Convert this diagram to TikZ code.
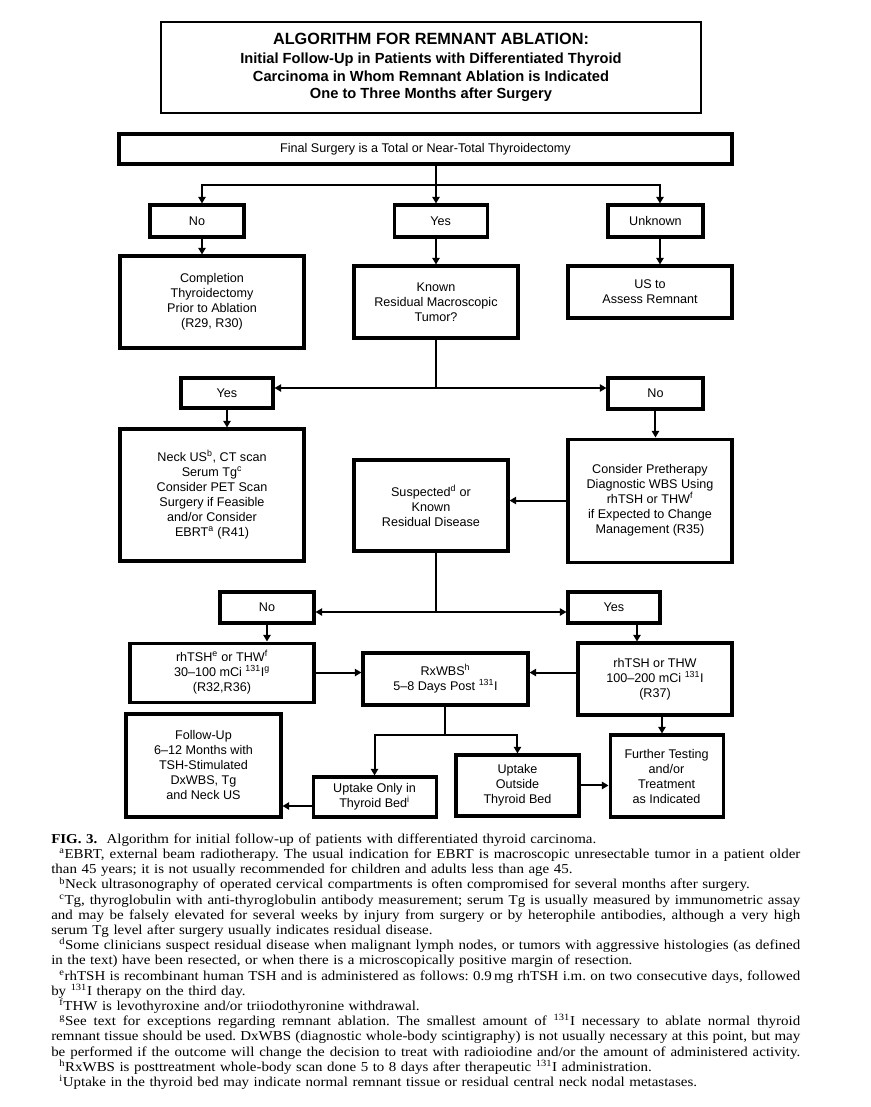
\documentclass[tikz,border=0pt]{standalone}
\usepackage{fontspec}
\setmainfont{Liberation Sans}
\newfontfamily\capserif[FakeStretch=1.1]{Liberation Serif}
\usepackage{tikz}
\usetikzlibrary{positioning, arrows.meta}

\newlength\capw
\setlength\capw{561.75pt}
\newcommand\jline[1]{\makebox[\capw][s]{\spaceskip=0pt\xspaceskip=0pt #1}}
\newcommand\capfont{\capserif\fontsize{10.2}{11.4}\selectfont\frenchspacing}
\newcommand\boxfont{\fontsize{9.45}{11.25}\selectfont}

\tikzset{
  flowbox/.style={draw, line width=2.3pt, align=center, inner sep=0pt, font=\boxfont},
  link/.style={line width=1.5pt},
  linkarr/.style={link, -{Triangle[length=5pt,width=5.5pt]}},
}

\begin{document}
\begin{tikzpicture}[x=1pt,y=-1pt]
            \useasboundingbox (0,0) rectangle (653.25,830.25);
            \node[draw, line width=1pt, minimum width=405pt, minimum height=68.25pt, align=center, inner sep=0pt,
                  font=\fontsize{11}{13.1}\selectfont\bfseries] (title) at (323.25,50.6)
                {{\fontsize{12.2}{13.1}\selectfont ALGORITHM FOR REMNANT ABLATION:}\\[1.2pt]
                 Initial Follow-Up in Patients with Differentiated Thyroid\\
                 Carcinoma in Whom Remnant Ablation is Indicated\\
                 One to Three Months after Surgery};
            \node[flowbox, line width=2.6pt, minimum width=459.75pt, minimum height=22.5pt] (final) at (319.1,111.75)
                {Final Surgery is a Total or Near-Total Thyroidectomy};
            \node[flowbox, minimum width=70.5pt, minimum height=24pt] (no1) at (147.75,165.75) {No};
            \node[flowbox, minimum width=69.75pt, minimum height=24pt] (yes1) at (330.4,165.75) {Yes};
            \node[flowbox, minimum width=71.25pt, minimum height=24pt] (unk) at (491.6,165.75) {Unknown};
            \node[flowbox, minimum width=138pt, minimum height=69pt] (compl) at (159,226.5)
                {Completion\\Thyroidectomy\\Prior to Ablation\\(R29, R30)};
            \node[flowbox, minimum width=123pt, minimum height=54pt] (known) at (327,226.5)
                {Known\\Residual Macroscopic\\Tumor?};
            \node[flowbox, minimum width=123pt, minimum height=39pt] (us) at (487.5,219)
                {US to\\Assess Remnant};
            \node[flowbox, minimum width=69pt, minimum height=22.5pt] (yes2) at (170.25,294.75) {Yes};
            \node[flowbox, minimum width=71.25pt, minimum height=23.25pt] (no2) at (491.6,295.1) {No};
            \node[flowbox, minimum width=138pt, minimum height=99pt] (neck) at (159,371.25)
                {Neck US\textsuperscript{b}, CT scan\\Serum Tg\textsuperscript{c}\\Consider PET Scan\\Surgery if Feasible\\and/or Consider\\EBRT\textsuperscript{a} (R41)};
            \node[flowbox, minimum width=123pt, minimum height=92.25pt] (consider) at (487.5,375.4)
                {Consider Pretherapy\\Diagnostic WBS Using\\rhTSH or THW\textsuperscript{f}\\if Expected to Change\\Management (R35)};
            \node[flowbox, minimum width=115.5pt, minimum height=68.25pt] (suspected) at (323.25,379.1)
                {Suspected\textsuperscript{d} or\\Known\\Residual Disease};
            \node[flowbox, minimum width=70.5pt, minimum height=23.25pt] (no3) at (200.25,455.6) {No};
            \node[flowbox, minimum width=69pt, minimum height=23.25pt] (yes3) at (460.5,455.6) {Yes};
            \node[flowbox, minimum width=138pt, minimum height=44.25pt] (rhl) at (166.5,504.4)
                {rhTSH\textsuperscript{e} or THW\textsuperscript{f}\\30–100 mCi \textsuperscript{131}I\textsuperscript{g}\\(R32,R36)};
            \node[flowbox, minimum width=123.75pt, minimum height=39pt] (rx) at (334.1,509.25)
                {RxWBS\textsuperscript{h}\\5–8 Days Post \textsuperscript{131}I};
            \node[flowbox, minimum width=115.5pt, minimum height=54pt] (rhr) at (491.25,509.25)
                {rhTSH or THW\\100–200 mCi \textsuperscript{131}I\\(R37)};
            \node[flowbox, minimum width=116.25pt, minimum height=77.25pt] (follow) at (152.6,574.1)
                {Follow-Up\\6–12 Months with\\TSH-Stimulated\\DxWBS, Tg\\and Neck US};
            \node[flowbox, minimum width=92.25pt, minimum height=30pt] (uonly) at (280.9,597.75)
                {Uptake Only in\\Thyroid Bed\textsuperscript{i}};
            \node[flowbox, minimum width=92.25pt, minimum height=45.75pt] (uout) at (388.1,589.1)
                {Uptake\\Outside\\Thyroid Bed};
            \node[flowbox, minimum width=84.75pt, minimum height=61.5pt] (further) at (499.9,582)
                {Further Testing\\and/or\\Treatment\\as Indicated};

            \coordinate (s1) at (327,138.75);
            \coordinate (s2) at (327,291);
            \coordinate (s3) at (327,459);
            \coordinate (s4) at (334.1,551.25);
            \coordinate (t1) at (477.75,0);
            \coordinate (t2) at (0,604.5);
            \coordinate (t3) at (496.5,0);
            \coordinate (t4) at (151.5,0);
            \coordinate (t5) at (495,0);

            \draw[link] (s1 |- final.south) -- (s1);
            \draw[linkarr] (s1) -| (t4 |- no1.north);
            \draw[linkarr] (s1) -- (s1 |- yes1.north);
            \draw[linkarr] (s1) -| (t5 |- unk.north);
            \draw[linkarr] (t4 |- no1.south) -- (t4 |- compl.north);
            \draw[linkarr] (s1 |- yes1.south) -- (s1 |- known.north);
            \draw[linkarr] (t5 |- unk.south) -- (t5 |- us.north);
            \draw[link] (known.south) -- (s2);
            \draw[linkarr] (s2) -- (s2 -| yes2.east);
            \draw[linkarr] (s2) -- (s2 -| no2.west);
            \draw[linkarr] (yes2.south) -- (yes2.south |- neck.north);
            \draw[linkarr] (no2.south) -- (no2.south |- consider.north);
            \draw[linkarr] (consider.west) -- (consider.west -| suspected.east);
            \draw[link] (s3 |- suspected.south) -- (s3);
            \draw[linkarr] (s3) -- (s3 -| no3.east);
            \draw[linkarr] (s3) -- (s3 -| yes3.west);
            \draw[linkarr] (no3.south) -- (no3.south |- rhl.north);
            \draw[linkarr] (t1 |- yes3.south) -- (t1 |- rhr.north);
            \draw[linkarr] (rhl.east) -- (rhl.east -| rx.west);
            \draw[linkarr] (rhr.west |- rhl.east) -- (rx.east |- rhl.east);
            \draw[link] (rx.south) -- (s4);
            \draw[linkarr] (s4) -| (uonly.north);
            \draw[linkarr] (s4) -| (uout.north);
            \draw[linkarr] (uonly.west |- t2) -- (follow.east |- t2);
            \draw[linkarr] (uout.east) -- (uout.east -| further.west);
            \draw[linkarr] (t3 |- rhr.south) -- (t3 |- further.north);

            \node[anchor=north west, inner sep=0pt, text width=\capw, align=left, font=\capfont] (caption) at (38.25,625.1)
                {\textbf{FIG. 3.}\hspace{7pt}Algorithm for initial follow-up of patients with differentiated thyroid carcinoma.\\
                 \jline{\hspace*{6pt}\textsuperscript{a}EBRT, external beam radiotherapy. The usual indication for EBRT is macroscopic unresectable tumor in a patient older}\\
                 than 45 years; it is not usually recommended for children and adults less than age 45.\\
                 \hspace*{6pt}\textsuperscript{b}Neck ultrasonography of operated cervical compartments is often compromised for several months after surgery.\\
                 \jline{\hspace*{6pt}\textsuperscript{c}Tg, thyroglobulin with anti-thyroglobulin antibody measurement; serum Tg is usually measured by immunometric assay}\\
                 \jline{and may be falsely elevated for several weeks by injury from surgery or by heterophile antibodies, although a very high}\\
                 serum Tg level after surgery usually indicates residual disease.\\
                 \jline{\hspace*{6pt}\textsuperscript{d}Some clinicians suspect residual disease when malignant lymph nodes, or tumors with aggressive histologies (as defined}\\
                 in the text) have been resected, or when there is a microscopically positive margin of resection.\\
                 \jline{\hspace*{6pt}\textsuperscript{e}rhTSH is recombinant human TSH and is administered as follows: 0.9\,mg rhTSH i.m. on two consecutive days, followed}\\
                 by \textsuperscript{131}I therapy on the third day.\\
                 \hspace*{6pt}\textsuperscript{f}THW is levothyroxine and/or triiodothyronine withdrawal.\\
                 \jline{\hspace*{6pt}\textsuperscript{g}See text for exceptions regarding remnant ablation. The smallest amount of \textsuperscript{131}I necessary to ablate normal thyroid}\\
                 \jline{remnant tissue should be used. DxWBS (diagnostic whole-body scintigraphy) is not usually necessary at this point, but may}\\
                 \jline{be performed if the outcome will change the decision to treat with radioiodine and/or the amount of administered activity.}\\
                 \hspace*{6pt}\textsuperscript{h}RxWBS is posttreatment whole-body scan done 5 to 8 days after therapeutic \textsuperscript{131}I administration.\\
                 \hspace*{6pt}\textsuperscript{i}Uptake in the thyroid bed may indicate normal remnant tissue or residual central neck nodal metastases.};
        \end{tikzpicture}
\end{document}
